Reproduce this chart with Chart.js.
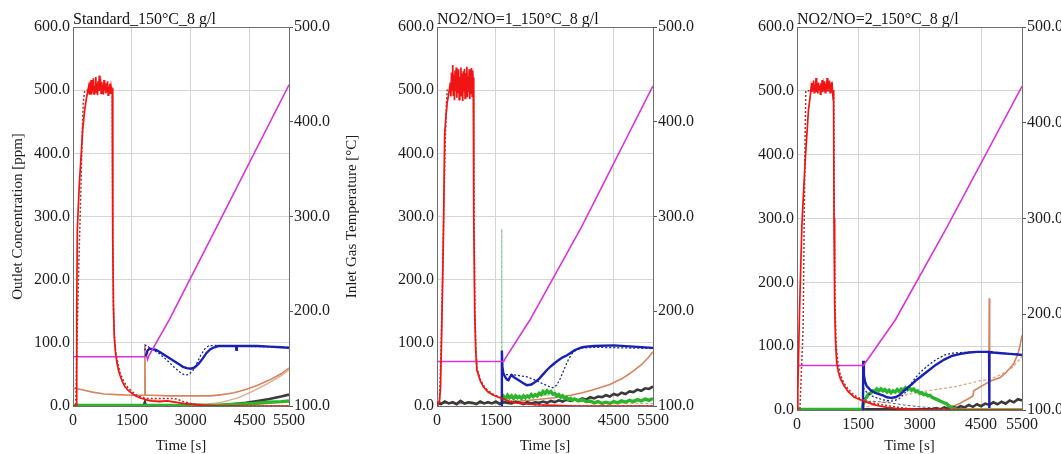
<!DOCTYPE html>
<html>
<head>
<meta charset="utf-8">
<script src="https://cdn.jsdelivr.net/npm/chart.js@4.4.0/dist/chart.umd.min.js"></script>
<style>
  body { margin: 0; background: #fff; width: 1061px; height: 454px; overflow: hidden; position: relative; }
  canvas { position: absolute; top: 0; }
</style>
</head>
<body>
<canvas id="panel-std" width="372" height="454" style="left:0px"></canvas>
<canvas id="panel-r1" width="330" height="454" style="left:380px"></canvas>
<canvas id="panel-r2" width="321" height="454" style="left:740px"></canvas>
<script>
// Axes
const timeTicks = [0, 1500, 3000, 4500, 5500];
const concTicks = [0, 100, 200, 300, 400, 500, 600];
const tempTicks = [100, 200, 300, 400, 500];

// ---- Standard_150°C_8 g/l : [time s, value] ----
const stdNh3 = [[0,0],[80,0],[95,150],[110,280],[160,350],[220,410],[250,440],[300,470],[350,490],[380,500],[400,506],[415,494],[430,512],[445,497],[460,516],[475,493],[490,509],[505,498],[520,519],[535,494],[550,507],[565,500],[580,521],[595,496],[610,511],[625,492],[640,514],[655,499],[670,523],[685,501],[700,518],[715,495],[730,513],[745,498],[760,509],[775,493],[790,516],[805,500],[820,511],[835,495],[850,508],[865,497],[880,514],[895,492],[910,506],[925,499],[940,510],[955,494],[970,505],[985,498],[1000,503],[1008,420],[1018,260],[1030,160],[1050,112],[1080,86],[1120,68],[1160,56],[1200,48],[1260,38],[1320,31],[1400,25],[1500,20],[1600,16],[1700,13],[1800,11],[1900,9],[2000,8],[2200,7],[2400,8],[2600,6],[2800,4],[3000,3],[3300,1],[3700,0],[5500,0]];
const stdNh3Sim = [[0,0],[70,0],[100,100],[150,230],[200,340],[230,420],[260,480],[290,497],[320,500],[1000,500],[1010,300],[1030,150],[1060,100],[1100,80],[1200,52],[1300,38],[1400,29],[1500,23],[1600,18],[1700,15],[1800,13],[1900,12],[2100,12],[2300,12],[2500,12],[2650,11],[2800,7],[3000,4],[3300,1],[3600,0],[5500,0]];
const stdTemp = [[0,152],[1000,152],[1880,152],[1900,149],[1930,153],[2450,191],[3660,289],[5500,439]];
const stdNox = [[1850,78],[1870,82],[1900,88],[1950,91],[2000,90],[2100,89],[2200,86],[2300,82],[2400,78],[2500,74],[2600,70],[2700,66],[2800,62],[2900,60],[3000,59],[3100,61],[3200,67],[3300,75],[3400,84],[3500,90],[3600,93],[3700,95],[3900,95],[4150,95],[4160,89],[4170,95],[4400,95],[4700,95],[5000,94],[5300,93],[5500,92]];
const stdNoxSim = [[1830,88],[1850,96],[1900,95],[1950,92],[2000,90],[2200,83],[2400,72],[2600,60],[2750,52],[2850,49],[2950,50],[3050,56],[3150,67],[3250,80],[3350,90],[3450,95],[3600,96],[4000,95],[5500,93]];
const stdNo2 = [[0,1],[3600,1],[3900,2],[4200,3],[4600,4],[5000,6],[5300,7],[5500,8]];
const stdNo = [[0,1],[1800,1],[1830,6],[1850,1],[3800,1],[4100,3],[4400,5],[4700,8],[5000,11],[5300,15],[5500,18]];
const stdN2o = [[0,28],[200,26],[500,22],[800,19],[1100,18],[1500,17],[1820,17],[1830,98],[1840,17],[2000,17],[2500,16],[3000,16],[3500,16],[3800,18],[4100,21],[4400,26],[4700,33],[5000,41],[5300,51],[5500,60]];
const stdN2oSim = [[1850,10],[2200,9],[2600,6],[3000,4],[3400,3],[3800,6],[4200,13],[4600,24],[5000,37],[5300,48],[5500,57]];

// ---- NO2/NO=1_150°C_8 g/l ----
const r1Nh3 = [[0,4],[60,5],[90,30],[120,120],[150,220],[170,300],[195,430],[230,460],[260,480],[300,495],[340,512],[355,490],[370,528],[385,500],[400,540],[415,492],[430,525],[445,484],[460,531],[475,499],[490,536],[505,488],[520,528],[535,497],[550,533],[565,485],[580,521],[595,494],[610,536],[625,490],[640,526],[655,483],[670,530],[685,498],[700,534],[715,487],[730,527],[745,495],[760,537],[775,489],[790,522],[805,497],[820,533],[835,486],[850,529],[865,494],[880,535],[895,490],[910,531],[925,500],[932,520],[940,300],[960,150],[985,90],[1015,57],[1100,40],[1185,30],[1300,22],[1437,17],[1650,12],[1800,8],[2000,5],[2500,2],[3000,1],[3500,0],[5500,0]];
const r1Nh3Sim = [[0,0],[60,3],[100,80],[140,200],[180,330],[210,420],[240,480],[260,500],[930,500],[945,300],[965,150],[990,90],[1020,60],[1100,42],[1200,31],[1300,24],[1450,18],[1650,13],[1800,9],[2000,6],[2500,2],[3000,0],[5500,0]];
const r1Temp = [[0,147],[1700,147],[1720,149],[2369,191],[3681,289],[5500,438]];
const r1Nox = [[1645,0],[1652,88],[1665,62],[1690,52],[1734,46],[1780,42],[1819,41],[1860,46],[1904,49],[1950,46],[2000,44],[2100,40],[2200,36],[2285,33],[2400,34],[2500,38],[2600,43],[2700,50],[2800,57],[2900,63],[3000,68],[3100,73],[3200,77],[3300,80],[3400,84],[3500,88],[3600,91],[3700,93],[3800,94],[4000,95],[4500,96],[5000,94],[5500,92]];
const r1NoxSim = [[1655,50],[1700,50],[2000,49],[2300,46],[2500,41],[2700,35],[2850,31],[2950,29],[3050,33],[3150,45],[3250,60],[3350,74],[3450,84],[3550,89],[3700,92],[4000,93],[5500,91]];
const r1No2 = [[1650,8],[1700,15],[1750,12],[1800,17],[1850,13],[1900,16],[1950,12],[2000,16],[2050,13],[2100,15],[2150,12],[2200,16],[2250,13],[2300,16],[2350,14],[2400,18],[2450,15],[2500,18],[2550,16],[2600,20],[2650,18],[2700,23],[2750,20],[2800,24],[2850,21],[2900,23],[2950,19],[3000,20],[3050,16],[3100,18],[3150,14],[3200,16],[3250,12],[3300,14],[3350,10],[3400,12],[3450,9],[3500,11],[3600,8],[3700,10],[3800,7],[3900,8],[4000,5],[4100,7],[4200,4],[4300,6],[4400,4],[4500,7],[4600,5],[4700,8],[4800,6],[4900,9],[5000,7],[5100,10],[5200,8],[5300,11],[5400,9],[5500,12]];
const r1No2Sim = [[1645,3],[1650,280],[1655,10],[1800,12],[2200,14],[2600,16],[2900,18],[3200,13],[3600,8],[4200,5],[5500,4]];
const r1No = [[0,5],[100,3],[200,7],[300,4],[400,6],[500,3],[600,8],[700,4],[800,6],[900,5],[1000,3],[1100,7],[1200,4],[1300,6],[1400,4],[1500,7],[1600,3],[1700,6],[1800,5],[1900,4],[2000,7],[2100,5],[2200,3],[2300,6],[2400,4],[2500,6],[2600,5],[2700,7],[2800,5],[2900,8],[3000,6],[3100,9],[3200,7],[3300,10],[3400,8],[3500,11],[3600,9],[3700,12],[3800,10],[3900,14],[4000,12],[4100,15],[4200,14],[4300,17],[4400,15],[4500,19],[4600,17],[4700,21],[4800,19],[4900,23],[5000,22],[5100,26],[5200,24],[5300,28],[5400,27],[5500,31]];
const r1N2o = [[0,9],[100,5],[500,4],[1000,4],[1500,5],[2000,7],[2500,10],[3000,13],[3400,17],[3700,21],[4000,26],[4400,34],[4700,43],[4900,51],[5200,65],[5400,78],[5500,86]];

// ---- NO2/NO=2_150°C_8 g/l ----
const r2Nh3 = [[0,0],[20,30],[60,150],[120,290],[200,390],[280,470],[330,495],[345,505],[360,498],[375,512],[390,500],[405,516],[420,497],[435,509],[450,501],[465,520],[480,498],[495,511],[510,496],[525,513],[540,503],[555,508],[570,495],[585,512],[600,500],[615,517],[630,498],[645,509],[660,502],[675,515],[690,497],[705,511],[720,500],[735,520],[750,499],[765,509],[780,503],[795,516],[810,497],[825,512],[840,500],[855,514],[870,498],[885,486],[895,500],[905,300],[920,170],[940,110],[970,75],[1010,60],[1060,49],[1150,38],[1262,28],[1400,20],[1588,15],[1800,10],[1955,7],[2200,4],[2500,2],[2800,1],[3200,0],[5500,0]];
const r2Nh3Sim = [[0,0],[70,0],[150,130],[175,290],[200,440],[215,500],[895,500],[910,300],[930,160],[960,100],[1000,75],[1060,55],[1150,42],[1260,32],[1400,23],[1600,16],[1800,12],[2000,9],[2300,6],[2600,3],[3000,1],[5500,0]];
const r2Temp = [[0,146.5],[1630,146.5],[1650,148],[2402,194],[3666,291],[5500,438]];
const r2Nox = [[1612,0],[1620,77],[1635,55],[1660,45],[1700,38],[1800,31],[1900,27],[2000,25],[2100,23],[2200,20],[2300,19],[2400,20],[2500,23],[2600,29],[2700,35],[2800,40],[2900,46],[3000,51],[3200,61],[3400,71],[3600,79],[3800,85],[4000,88],[4200,90],[4400,91],[4600,91],[4695,91],[4700,3],[4705,91],[4800,90],[5000,89],[5200,88],[5400,87],[5500,86]];
const r2NoxSim = [[1620,35],[1700,28],[1800,23],[1900,20],[2000,18],[2100,16],[2200,15],[2300,14],[2400,15],[2500,18],[2600,24],[2700,32],[2800,42],[2900,51],[3000,58],[3100,64],[3250,72],[3400,79],[3600,86],[3800,89],[4000,90],[4500,91],[5000,89],[5500,87]];
const r2No2 = [[0,1],[1600,1],[1620,10],[1650,16],[1700,20],[1750,25],[1800,26],[1850,30],[1900,29],[1950,33],[2000,30],[2050,33],[2100,30],[2150,32],[2200,28],[2250,31],[2300,27],[2350,30],[2400,28],[2450,32],[2500,29],[2550,33],[2600,31],[2650,35],[2700,32],[2750,35],[2800,31],[2850,33],[2900,29],[2950,30],[3000,26],[3050,27],[3100,24],[3150,25],[3200,22],[3250,23],[3300,20],[3400,17],[3500,14],[3600,11],[3650,10],[3700,7],[3750,5],[3800,3],[3900,1],[4100,0],[5500,0]];
const r2No2Sim = [[1620,10],[1800,14],[2000,13],[2300,11],[2600,8],[3000,5],[3400,3],[3800,1],[4200,0]];
const r2No = [[0,1],[3300,1],[3400,3],[3500,1],[3600,4],[3700,2],[3800,5],[3900,3],[4000,6],[4100,4],[4200,8],[4300,5],[4400,9],[4500,6],[4600,10],[4700,8],[4800,12],[4900,9],[5000,13],[5100,10],[5200,15],[5300,12],[5400,17],[5500,15]];
const r2N2o = [[0,0],[3650,0],[3800,5],[4000,11],[4200,18],[4300,22],[4320,30],[4500,37],[4690,44],[4700,175],[4710,45],[4970,51],[5100,58],[5294,72],[5400,88],[5450,100],[5500,117]];
const r2N2oSim = [[1700,5],[2000,10],[2280,15],[2524,22],[3000,28],[3500,33],[3910,37],[4480,46],[4724,48],[5000,56],[5250,66],[5457,80],[5500,84]];

Chart.defaults.font.family = '"Liberation Serif", "Times New Roman", serif';
Chart.defaults.color = '#1e1e1e';

const GRID = '#d4d4d4';
const AXIS = '#6e6e6e';

function trace(points, color, width, dash, axis) {
    if (!points) return null;
    return {
        data: points.map(p => ({ x: p[0], y: p[1] })),
        borderColor: color,
        borderWidth: width,
        borderDash: dash || [],
        pointRadius: 0,
        tension: 0,
        fill: false,
        yAxisID: axis || 'y'
    };
}

// closes the plot box (Chart.js has no top border)
const plotFrame = {
    id: 'plotFrame',
    beforeDatasetsDraw(chart) {
        const { ctx, chartArea: a } = chart;
        ctx.save();
        ctx.strokeStyle = AXIS;
        ctx.lineWidth = 1;
        ctx.beginPath();
        ctx.moveTo(a.left, Math.round(a.top) + 0.5);
        ctx.lineTo(a.right, Math.round(a.top) + 0.5);
        ctx.stroke();
        ctx.restore();
    }
};

// right-hand axis caption, reading bottom to top like the left one
const sideTitle = {
    id: 'sideTitle',
    afterDraw(chart, args, opts) {
        if (!opts || !opts.text) return;
        const { ctx, chartArea: a } = chart;
        ctx.save();
        ctx.translate(opts.x, (a.top + a.bottom) / 2);
        ctx.rotate(-Math.PI / 2);
        ctx.font = '15px "Liberation Serif", serif';
        ctx.fillStyle = '#1e1e1e';
        ctx.textAlign = 'center';
        ctx.textBaseline = 'middle';
        ctx.fillText(opts.text, 0, 0);
        ctx.restore();
    }
};

function makePanel(canvasId, title, s, box) {
    const datasets = [
        trace(s.nh3, '#f01414', 1.7),
        trace(s.nh3Sim, '#a8322a', 1.5, [2, 2]),
        trace(s.temp, '#d835d8', 1.6, null, 'yTemp'),
        trace(s.nox, '#1a20b0', 2.4),
        trace(s.noxSim, '#1a2a80', 1.3, [2, 2]),
        trace(s.no2, '#2cb52c', 3.4),
        trace(s.no2Sim, s.no2SimColor || '#7fc48f', 1, [3, 2]),
        trace(s.no, '#3a3a3a', 2.6),
        trace(s.n2o, '#d4845f', 1.6),
        trace(s.n2oSim, '#e0aa88', 1.3, s.n2oSimDash)
    ].filter(Boolean);

    return new Chart(document.getElementById(canvasId), {
        type: 'line',
        data: { datasets },
        options: {
            responsive: false,
            devicePixelRatio: 1,
            animation: false,
            layout: { padding: 0 },
            plugins: {
                legend: { display: false },
                tooltip: { enabled: false },
                title: {
                    display: true,
                    text: title,
                    align: 'start',
                    fullSize: false,
                    color: '#111',
                    font: { size: 16, weight: 'normal', lineHeight: 1 },
                    padding: { top: 12, bottom: -1 }
                },
                sideTitle: box.sideTitle || {}
            },
            scales: {
                x: {
                    type: 'linear',
                    min: 0,
                    max: 5500,
                    afterBuildTicks: sc => { sc.ticks = timeTicks.map(v => ({ value: v })); },
                    afterFit: sc => { sc.height = box.bottom; },
                    ticks: { autoSkip: false, maxRotation: 0, padding: 5, font: { size: 16 }, callback: v => String(v) },
                    grid: { color: GRID, drawTicks: false },
                    border: { color: AXIS },
                    title: { display: true, text: 'Time [s]', font: { size: 15, lineHeight: 1 }, padding: 0 }
                },
                y: {
                    position: 'left',
                    min: 0,
                    max: 600,
                    afterBuildTicks: sc => { sc.ticks = concTicks.map(v => ({ value: v })); },
                    afterFit: sc => { sc.width = box.left; },
                    ticks: { padding: 3, font: { size: 16 }, callback: v => v.toFixed(1) },
                    grid: { color: GRID, drawTicks: false },
                    border: { color: AXIS },
                    title: {
                        display: !!box.yTitle,
                        text: 'Outlet Concentration [ppm]',
                        font: { size: 15 },
                        padding: { top: 9, bottom: 0 }
                    }
                },
                yTemp: {
                    position: 'right',
                    min: 100,
                    max: 500,
                    afterBuildTicks: sc => { sc.ticks = tempTicks.map(v => ({ value: v })); },
                    afterFit: sc => { sc.width = box.right; },
                    ticks: { padding: 1, font: { size: 16 }, callback: v => v.toFixed(1) },
                    grid: { drawOnChartArea: false, color: '#555', tickLength: 4 },
                    border: { color: AXIS }
                }
            }
        },
        plugins: [plotFrame, sideTitle]
    });
}

makePanel('panel-std', 'Standard_150°C_8 g/l', {
    nh3: stdNh3, nh3Sim: stdNh3Sim, temp: stdTemp, nox: stdNox, noxSim: stdNoxSim,
    no2: stdNo2, no: stdNo, n2o: stdN2o, n2oSim: stdN2oSim
}, { left: 73, right: 83, bottom: 48, yTitle: true, sideTitle: { text: 'Inlet Gas Temperature [°C]', x: 352 } });

makePanel('panel-r1', 'NO2/NO=1_150°C_8 g/l', {
    nh3: r1Nh3, nh3Sim: r1Nh3Sim, temp: r1Temp, nox: r1Nox, noxSim: r1NoxSim,
    no2: r1No2, no2Sim: r1No2Sim, no: r1No, n2o: r1N2o
}, { left: 57, right: 57, bottom: 48 });

makePanel('panel-r2', 'NO2/NO=2_150°C_8 g/l', {
    nh3: r2Nh3, nh3Sim: r2Nh3Sim, temp: r2Temp, nox: r2Nox, noxSim: r2NoxSim,
    no2: r2No2, no2Sim: r2No2Sim, no2SimColor: '#55606e', no: r2No, n2o: r2N2o,
    n2oSim: r2N2oSim, n2oSimDash: [3, 2]
}, { left: 57, right: 39, bottom: 44 });
</script>
</body>
</html>
